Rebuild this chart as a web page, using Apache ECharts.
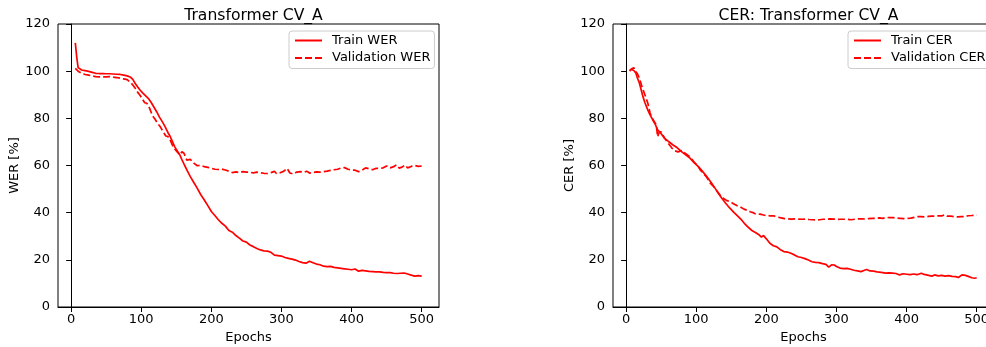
<!DOCTYPE html>
<html>
<head>
<meta charset="utf-8">
<script src="https://cdn.jsdelivr.net/npm/echarts@6/dist/echarts.min.js"></script>
<style>
html,body{margin:0;padding:0;background:#fff;}
#c{width:986px;height:347px;}
</style>
</head>
<body>
<div id="c"></div>
<script>
// ---------- DATA ----------
const titles = ['Transformer CV_A', 'CER: Transformer CV_A'];
const yNames = ['WER [%]', 'CER [%]'];
const xName = 'Epochs';
const xTicks = [0, 100, 200, 300, 400, 500];
const seriesNames = ['Train WER', 'Validation WER', 'Train CER', 'Validation CER'];

const werTrainEpochs = [6,8,10,12,15,20,25,30,35,40,45,50,55,60,65,70,75,80,85,88,91,95,98,102,106,110,114,118,122,126,130,134,138,141,145,148,151,155,158,162,166,170,175,180,185,190,195,200,205,210,215,220,225,230,235,240,245,250,255,260,265,270,275,280,285,290,295,300,305,310,315,320,325,330,335,340,345,350,355,360,365,370,375,380,385,390,395,400,405,410,415,420,425,430,435,440,445,450,455,460,465,470,475,480,485,490,495,500];
const werTrain = [112,106,101.5,100.8,100.5,100.2,99.9,99.5,99.1,99.0,99.0,98.9,98.9,98.8,98.7,98.6,98.3,98.0,97.4,96.5,95.0,93.3,92.1,90.8,89.6,88.5,86.8,84.8,82.8,80.5,78.6,76.5,74.0,72.5,69.8,67.8,66.4,64.5,62.5,60.0,57.6,55.3,52.8,50.3,47.6,45.4,43.0,40.5,38.8,37.0,35.5,34.3,32.4,31.7,30.3,29.2,28.0,27.5,26.3,25.6,24.8,24.2,23.8,23.7,23.2,22.0,21.8,21.6,21.0,20.6,20.3,19.9,19.3,18.8,18.6,19.4,18.8,18.2,17.9,17.3,17.1,17.2,16.8,16.6,16.4,16.2,16.0,15.8,16.1,15.2,15.5,15.3,15.1,15.0,14.9,14.9,14.7,14.6,14.6,14.3,14.2,14.3,14.4,14.0,13.5,13.1,13.3,13.1];

const werValEpochs = [6,10,15,20,25,30,35,40,45,50,55,60,65,70,75,80,85,88,92,95,98,102,105,108,112,116,120,124,127,131,135,138,141,145,148,152,155,158,161,165,170,175,180,185,190,195,200,205,210,215,220,225,230,235,240,245,250,255,260,265,270,275,280,285,290,293,298,303,308,312,317,322,327,332,336,340,345,350,355,360,365,370,375,380,385,390,395,400,405,410,415,420,425,430,435,440,445,450,452,455,460,464,468,472,476,480,485,490,495,500];
const werVal = [101.2,100.0,99.1,98.6,98.3,98.0,97.7,97.6,97.6,97.6,97.7,97.5,97.3,97.0,96.7,96.4,95.2,94.1,92.5,91.0,89.9,88.0,86.6,86.4,84.2,81.2,79.5,77.6,76.5,74.5,72.5,72.3,71.0,68.3,66.9,65.5,64.5,65.8,65.2,62.3,62.6,61.0,59.9,60.1,59.5,59.2,58.8,58.4,58.3,58.5,58.1,57.6,57.0,57.3,57.0,57.4,57.2,57.1,56.9,57.2,56.9,56.7,56.6,57.0,57.5,56.6,56.9,57.5,58.8,56.8,56.4,57.2,57.4,57.1,57.6,56.8,57.0,57.3,57.2,57.4,57.6,57.9,58.2,58.4,58.9,59.1,58.4,58.1,58.0,57.4,58.0,59.0,58.6,58.2,58.8,58.7,59.0,59.8,60.4,59.0,59.5,60.3,58.9,59.3,60.2,59.0,59.6,60.0,59.6,59.8];

const cerTrainEpochs = [5,8,10,12,14,16,19,22,24,27,31,34,38,41,45,50,55,60,67,73,79,85,91,97,103,109,115,121,127,132,137,142,148,154,160,165,170,175,180,185,190,193,196,200,205,210,215,220,225,230,235,240,245,250,255,260,265,270,275,280,285,289,293,297,300,305,310,315,320,325,330,335,340,343,348,353,358,364,370,375,380,385,390,395,400,405,410,415,421,425,430,436,440,445,450,455,460,465,470,474,479,484,488,493,497,500];
const cerTrain = [100.5,100.8,100.5,100.0,99.1,97.2,94.9,91.5,89.2,86.5,83.5,81.6,79.3,77.8,75.1,73.5,71.5,70.3,68.7,67.5,65.9,64.5,63.1,61.2,59.5,57.5,55.3,52.9,50.3,48.0,45.9,44.0,41.9,40.0,38.3,36.8,35.0,33.6,32.3,31.5,30.5,29.6,30.3,28.9,27.0,26.0,25.5,24.3,23.5,23.3,22.8,22.1,21.3,21.0,20.5,19.9,19.2,18.9,18.8,18.4,18.1,16.9,17.9,17.8,17.2,16.5,16.3,16.4,16.0,15.6,15.3,15.0,15.6,15.9,15.3,15.2,14.9,14.7,14.4,14.5,14.4,14.2,13.6,14.1,13.9,13.7,14.0,13.7,14.3,13.8,13.5,13.1,13.6,13.2,13.4,13.1,13.3,13.0,12.9,12.5,13.6,13.4,13.0,12.4,12.2,12.4];

const cerValEpochs = [5,8,11,13,16,19,22,26,31,34,36,40,43,45,47,50,55,60,65,69,74,79,85,91,97,103,106,110,115,120,125,130,134,138,143,148,153,158,163,168,173,177,182,186,191,196,201,206,211,216,221,226,231,236,241,246,251,256,261,266,271,276,281,286,291,296,301,306,311,316,321,326,331,336,341,346,351,356,361,366,371,376,381,386,391,396,401,406,411,416,421,426,431,436,441,446,450,454,458,463,468,473,478,483,488,493,497,500];
const cerVal = [100.0,101.0,101.5,100.0,99.0,97.0,94.0,90.6,86.4,82.5,80.7,78.7,77.2,72.2,74.0,74.3,71.5,69.4,67.5,66.3,65.8,66.3,65.0,63.7,61.5,59.5,58.0,56.7,55.0,52.5,51.0,49.0,47.5,46.2,45.2,44.7,43.8,43.0,42.4,41.5,41.0,40.4,39.9,39.2,39.4,39.0,38.8,38.6,38.6,38.1,37.8,37.5,37.4,37.3,37.4,37.3,37.2,37.3,37.1,37.0,36.9,37.0,37.2,37.2,37.4,37.3,37.1,37.2,37.2,37.2,37.0,37.2,37.4,37.4,37.3,37.5,37.6,37.6,37.8,37.6,38.0,37.9,37.9,37.7,37.6,37.5,37.6,37.7,38.0,38.3,38.3,38.2,38.4,38.5,38.6,38.7,38.6,39.1,38.5,38.5,38.3,38.2,38.3,38.3,38.7,38.8,38.9,39.0];

// ---------- CHART ----------
const zip = (xs, ys) => xs.map((x, i) => [x, ys[i]]);
const FONT = 'DejaVu Sans';
const RED = '#ff0000';

const grids = [
  {left: 58, top: 24, width: 381, height: 283},
  {left: 613, top: 24, width: 381, height: 283}
];

function xAxisFor(i) {
  return {
    type: 'value', gridIndex: i, min: -18.7, max: 524.7,
    name: xName, nameLocation: 'middle', nameGap: 22,
    nameTextStyle: {fontFamily: FONT, fontSize: 13, color: '#000'},
    axisLine: {show: true, lineStyle: {color: '#000', width: 1}},
    axisTick: {show: true, length: 5, inside: false, customValues: xTicks, lineStyle: {color: '#000'}},
    axisLabel: {show: true, customValues: xTicks, margin: 6, fontFamily: FONT, fontSize: 13, color: '#000'},
    splitLine: {show: false}
  };
}
function yAxisFor(i) {
  return {
    type: 'value', gridIndex: i, min: 0, max: 120, interval: 20,
    name: yNames[i], nameLocation: 'middle', nameGap: 36,
    nameTextStyle: {fontFamily: FONT, fontSize: 13, color: '#000'},
    axisLine: {show: true, lineStyle: {color: '#000', width: 1}},
    axisTick: {show: true, length: 5, inside: false, lineStyle: {color: '#000'}},
    axisLabel: {show: true, margin: 8, fontFamily: FONT, fontSize: 13, color: '#000'},
    splitLine: {show: false}
  };
}
function lineSeries(name, idx, data, dashed) {
  return {
    name: name, type: 'line', xAxisIndex: idx, yAxisIndex: idx,
    data: data, symbol: 'none', showSymbol: false, smooth: false, animation: false,
    lineStyle: {color: RED, width: 1.7, type: dashed ? [7, 3] : 'solid'},
    itemStyle: {color: RED}
  };
}
function legendFor(names, pos) {
  return Object.assign({
    orient: 'vertical', data: names, top: 31,
    itemWidth: 27, itemHeight: 14, itemGap: 4.5,
    padding: [3, 4, 4, 5],
    borderColor: '#cccccc', borderWidth: 1, borderRadius: 3,
    backgroundColor: 'rgba(255,255,255,0.8)',
    itemStyle: {opacity: 0, borderWidth: 0},
    textStyle: {fontFamily: FONT, fontSize: 13, color: '#000', padding: [0, 0, 0, 5]},
    selectedMode: false
  }, pos);
}

const chart = echarts.init(document.getElementById('c'), null, {renderer: 'canvas'});
chart.setOption({
  animation: false,
  backgroundColor: '#fff',
  title: [
    {text: titles[0], left: 248.5, top: 3, textAlign: 'center',
     textStyle: {fontFamily: FONT, fontSize: 15.6, fontWeight: 'normal', color: '#000'}},
    {text: titles[1], left: 803.5, top: 3, textAlign: 'center',
     textStyle: {fontFamily: FONT, fontSize: 15.6, fontWeight: 'normal', color: '#000'}}
  ],
  grid: grids.map(g => Object.assign({show: true, borderColor: '#000', borderWidth: 1, containLabel: false, outerBoundsMode: 'none'}, g)),
  xAxis: [xAxisFor(0), xAxisFor(1)],
  yAxis: [yAxisFor(0), yAxisFor(1)],
  legend: [
    legendFor([seriesNames[0], seriesNames[1]], {left: 289}),
    legendFor([seriesNames[2], seriesNames[3]], {left: 848})
  ],
  series: [
    lineSeries(seriesNames[0], 0, zip(werTrainEpochs, werTrain), false),
    lineSeries(seriesNames[1], 0, zip(werValEpochs, werVal), true),
    lineSeries(seriesNames[2], 1, zip(cerTrainEpochs, cerTrain), false),
    lineSeries(seriesNames[3], 1, zip(cerValEpochs, cerVal), true)
  ]
});
</script>
</body>
</html>
